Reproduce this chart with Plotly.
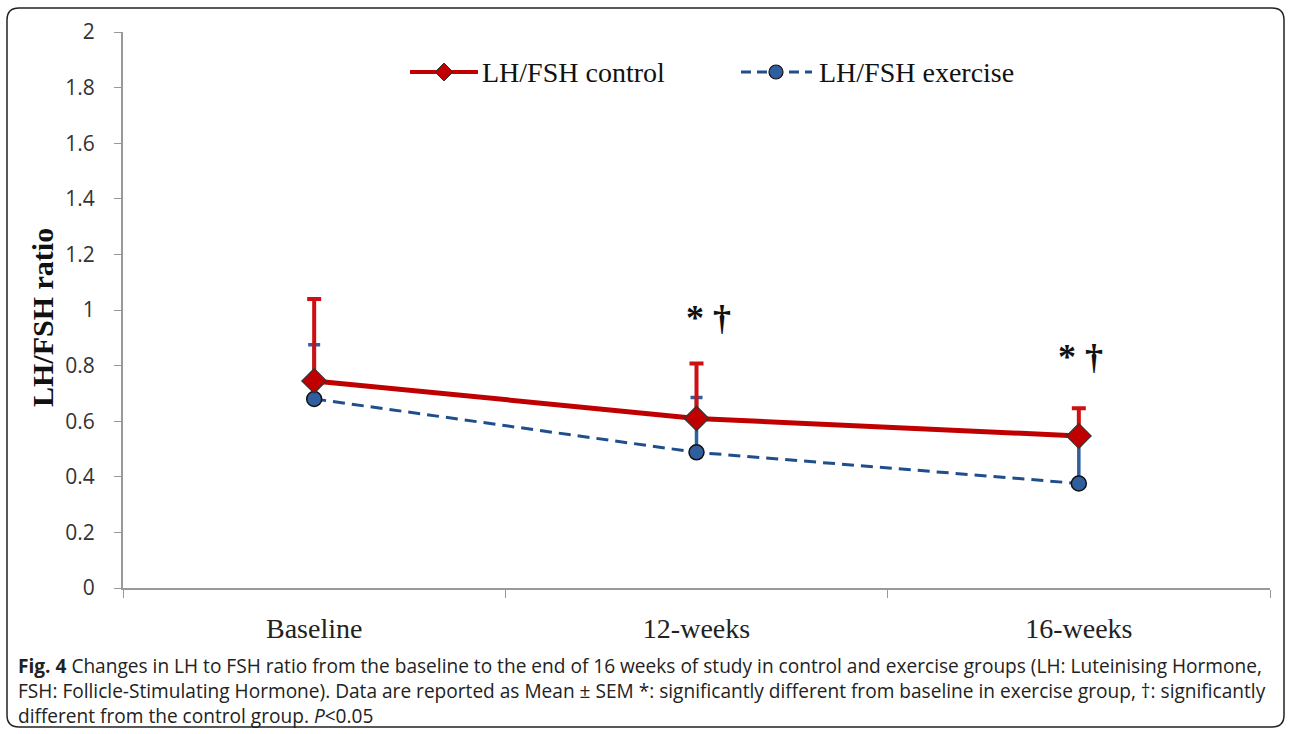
import plotly.graph_objects as go

categories = ["Baseline", "12-weeks", "16-weeks"]
control_mean = [0.745, 0.61, 0.547]
control_sem = [0.295, 0.198, 0.10]
exercise_mean = [0.68, 0.488, 0.376]
exercise_sem = [0.195, 0.197, 0.17]
y_ticks = [0, 0.2, 0.4, 0.6, 0.8, 1, 1.2, 1.4, 1.6, 1.8, 2]
sig_labels = ["", "* †", "* †"]
sig_y = [None, 0.97, 0.83]
sig_shift = [0, 12, 2]
series_names = ["LH/FSH control", "LH/FSH exercise"]

caption = ("<b>Fig. 4</b> Changes in LH to FSH ratio from the baseline to the end of 16 weeks of study in control and exercise groups (LH: Luteinising Hormone,<br>"
           "FSH: Follicle-Stimulating Hormone). Data are reported as Mean ± SEM *: significantly different from baseline in exercise group, †: significantly<br>"
           "different from the control group. <i>P</i>&lt;0.05")

RED = "#C00000"
BLUE = "#1F4E8C"
BLUE_M = "#2F5F9E"
DASH = "12px,7px"

fig = go.Figure()
fig.add_trace(go.Scatter(
    x=categories, y=exercise_mean, name=series_names[1], mode="lines+markers",
    line=dict(color=BLUE, width=3, dash=DASH),
    marker=dict(symbol="circle", size=15, color=BLUE_M, line=dict(color="#111", width=1.5)),
    error_y=dict(type="data", array=exercise_sem, arrayminus=[0, 0, 0], color=BLUE_M, thickness=3.5, width=6),
))
fig.add_trace(go.Scatter(
    x=categories, y=control_mean, name=series_names[0], mode="lines+markers",
    line=dict(color=RED, width=5),
    marker=dict(symbol="diamond", size=19, color=RED, line=dict(color="#333", width=1.2)),
    error_y=dict(type="data", array=control_sem, arrayminus=[0, 0, 0], color="#D01010", thickness=4, width=7),
))

for c, lab, yv, sh in zip(categories, sig_labels, sig_y, sig_shift):
    if lab:
        fig.add_annotation(x=c, y=yv, text=f"<b>{lab}</b>", showarrow=False, xshift=sh,
                           font=dict(family="Liberation Serif", size=36, color="#111"))

# pixel -> paper helpers
px0, px1 = 123, 1270
py0, py1 = 588, 32
def fx(p):
    return (p - px0) / (px1 - px0)
def fy(p):
    return (py0 - p) / (py0 - py1)

# outer frame with rounded corners
L, R, T, B = 7, 1284, 8, 727
r = 12
path = (f"M {fx(L+r)},{fy(T)} L {fx(R-r)},{fy(T)} Q {fx(R)},{fy(T)} {fx(R)},{fy(T+r)} "
        f"L {fx(R)},{fy(B-r)} Q {fx(R)},{fy(B)} {fx(R-r)},{fy(B)} "
        f"L {fx(L+r)},{fy(B)} Q {fx(L)},{fy(B)} {fx(L)},{fy(B-r)} "
        f"L {fx(L)},{fy(T+r)} Q {fx(L)},{fy(T)} {fx(L+r)},{fy(T)} Z")
fig.add_shape(type="path", path=path, xref="paper", yref="paper",
              line=dict(color="#222", width=1.5))

# legend (drawn as key shapes + text, Excel style)
ly = 72
fig.add_shape(type="line", xref="paper", yref="paper", x0=fx(410), x1=fx(478), y0=fy(ly), y1=fy(ly),
              line=dict(color=RED, width=4))
d = 9
fig.add_shape(type="path", xref="paper", yref="paper",
              path=f"M {fx(444)},{fy(ly-d)} L {fx(444+d)},{fy(ly)} L {fx(444)},{fy(ly+d)} L {fx(444-d)},{fy(ly)} Z",
              fillcolor=RED, line=dict(color="#333", width=1))
fig.add_annotation(x=fx(480), y=fy(ly), xref="paper", yref="paper", xanchor="left", yanchor="middle",
                   showarrow=False, text=series_names[0],
                   font=dict(family="Liberation Serif", size=28, color="#111"))
fig.add_shape(type="line", xref="paper", yref="paper", x0=fx(741), x1=fx(812), y0=fy(ly), y1=fy(ly),
              line=dict(color=BLUE, width=3, dash="10px,6px"))
cr = 7
fig.add_shape(type="circle", xref="paper", yref="paper", x0=fx(776-cr), x1=fx(776+cr),
              y0=fy(ly+cr), y1=fy(ly-cr), fillcolor=BLUE_M, line=dict(color="#111", width=1.2))
fig.add_annotation(x=fx(817), y=fy(ly), xref="paper", yref="paper", xanchor="left", yanchor="middle",
                   showarrow=False, text=series_names[1],
                   font=dict(family="Liberation Serif", size=28, color="#111"))

# y axis title
fig.add_annotation(x=fx(42), y=fy(318), xref="paper", yref="paper", xanchor="center", yanchor="middle",
                   showarrow=False, textangle=-90, text="<b>LH/FSH ratio</b>",
                   font=dict(family="Liberation Serif", size=30, color="#111"))

# caption
fig.add_annotation(x=fx(16), y=fy(651), xref="paper", yref="paper", xanchor="left", yanchor="top",
                   align="left", showarrow=False, text=caption,
                   font=dict(family="Open Sans", size=19.1, color="#222"))

fig.update_layout(
    width=1290, height=734,
    margin=dict(l=123, r=20, t=32, b=146),
    plot_bgcolor="white", paper_bgcolor="white",
    showlegend=False,
    xaxis=dict(type="category", range=[-0.5, 2.5], tickson="boundaries", ticks="outside",
               ticklen=8, tickcolor="#999", showline=True, linecolor="#999", linewidth=2,
               showgrid=False, ticklabelstandoff=14,
               tickfont=dict(family="Liberation Serif", size=28, color="#222")),
    yaxis=dict(range=[0, 2], tickvals=y_ticks, ticktext=[f"{v:g}" for v in y_ticks],
               ticks="outside", ticklen=7, tickcolor="#999", showline=True, linecolor="#999",
               linewidth=2, showgrid=False, zeroline=False, ticklabelstandoff=15,
               tickfont=dict(family="Open Sans", size=21, color="#333")),
)

fig.write_html("out.html", config={"displayModeBar": False},
               post_script="document.body.style.margin='0';")
